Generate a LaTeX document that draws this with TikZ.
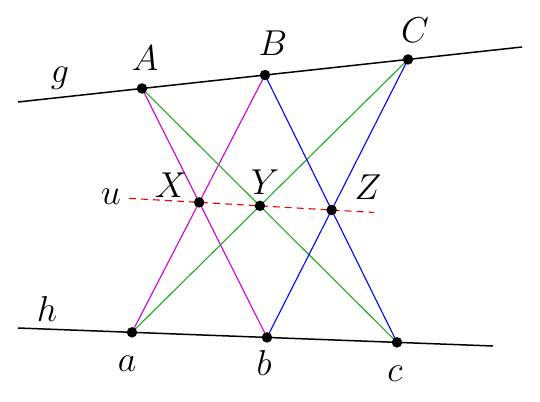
\RequirePackage{fix-cm}
\documentclass[tikz,border=0pt]{standalone}
\usetikzlibrary{calc}
\definecolor{mag}{RGB}{210,0,210}
\definecolor{grn}{RGB}{30,170,30}
\definecolor{blu}{RGB}{0,0,255}
\definecolor{rd}{RGB}{240,0,0}
\begin{document}
\begin{tikzpicture}[x=1pt,y=-1pt,
  dot/.style={circle,fill=black,inner sep=0pt,minimum size=10.5pt},
  lab/.style={inner sep=0pt,font=\fontsize{36}{42}\selectfont},
  base/.style={line width=1.5pt,black},
  conn/.style={line width=1.1pt}]
\useasboundingbox (0,0) rectangle (540,401);
\coordinate (g1) at (18,102);
\coordinate (g2) at (522,47);
\coordinate (h1) at (18,328);
\coordinate (h2) at (493,346);
\coordinate (A) at ($(g1)!{(142-18)/504}!(g2)$);
\coordinate (B) at ($(g1)!{(265-18)/504}!(g2)$);
\coordinate (C) at ($(g1)!{(408-18)/504}!(g2)$);
\coordinate (a) at ($(h1)!{(132-18)/475}!(h2)$);
\coordinate (b) at ($(h1)!{(267-18)/475}!(h2)$);
\coordinate (c) at ($(h1)!{(397-18)/475}!(h2)$);
\coordinate (X) at (intersection of A--b and B--a);
\coordinate (Y) at (intersection of A--c and C--a);
\coordinate (Z) at (intersection of B--c and C--b);
\coordinate (u1) at ($(X)!-0.53!(Z)$);
\coordinate (u2) at ($(X)!1.32!(Z)$);
\draw[base] (g1) -- (g2);
\draw[base] (h1) -- (h2);
\draw[conn,mag] (A) -- (b);
\draw[conn,mag] (B) -- (a);
\draw[conn,grn] (A) -- (c);
\draw[conn,grn] (C) -- (a);
\draw[conn,blu] (B) -- (c);
\draw[conn,blu] (C) -- (b);
\draw[conn,rd,dash pattern=on 7pt off 5pt] (u1) -- (u2);
\foreach \p in {A,B,C,a,b,c,X,Y,Z} \node[dot] (d\p) at (\p) {};
\node[lab] (lg) at (60,78) {$g$};
\node[lab] (lh) at (47,309) {$h$};
\node[lab] (lu) at (111,197) {$u$};
\node[lab] (lA) at (145,58) {$A$};
\node[lab] (lB) at (273,43) {$B$};
\node[lab] (lC) at (415,30) {$C$};
\node[lab] (lX) at (171,185) {$X$};
\node[lab] (lY) at (265,182) {$Y$};
\node[lab] (lZ) at (368,187) {$Z$};
\node[lab] (la) at (127,364) {$a$};
\node[lab] (lb) at (264,363) {$b$};
\node[lab] (lc) at (395,374) {$c$};
\end{tikzpicture}
\end{document}
